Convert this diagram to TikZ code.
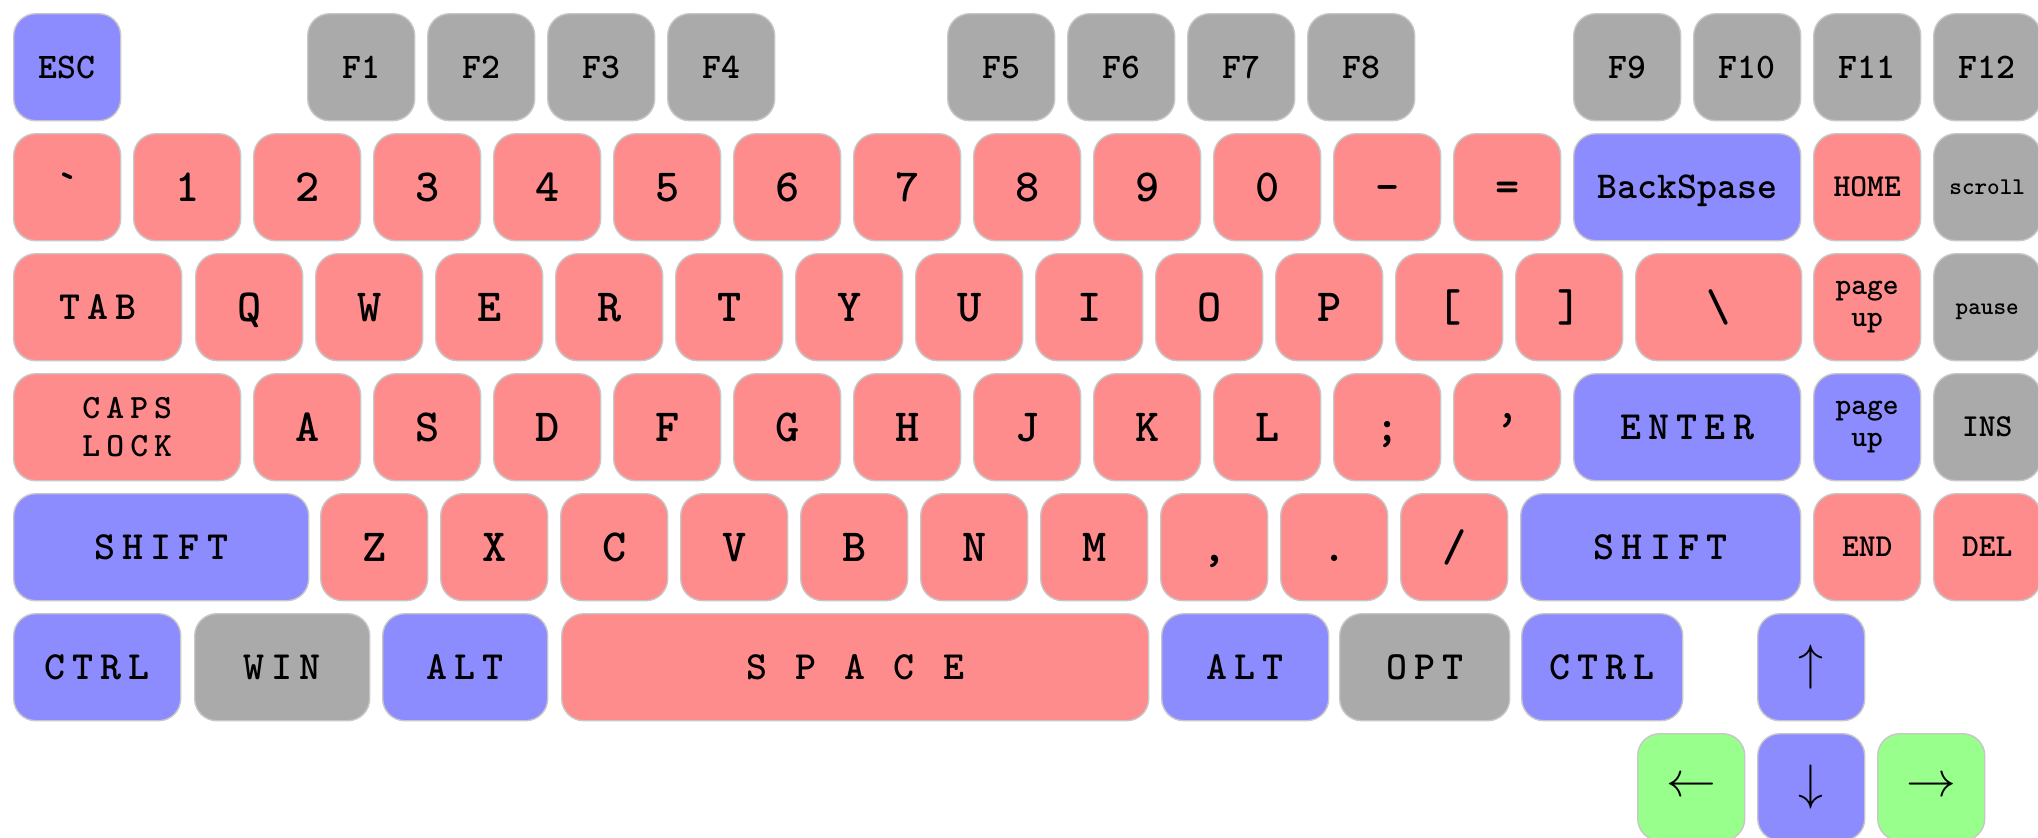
\documentclass[tikz,border=0pt]{standalone}
\usepackage{xcolor}
\usepackage{fontspec}
\usepackage{tikz}
\usetikzlibrary{positioning}

\newfontfamily\keyfont{lmmonolt10-bold.otf}
\newfontfamily\widekeyfont{lmmonolt10-bold.otf}[LetterSpace=18]
\definecolor{keyred}{RGB}{255,140,140}
\definecolor{keyblue}{RGB}{140,140,255}
\definecolor{keygray}{RGB}{170,170,170}
\definecolor{keygreen}{RGB}{152,255,140}

\begin{document}
\begin{tikzpicture}[x=0.5pt,y=-0.5pt,
  key/.style={draw=black!22, line width=0.7pt, rounded corners=11pt, anchor=north west,
    minimum width=53.5pt, minimum height=53.5pt, inner sep=0pt, align=center,
    font=\keyfont\fontsize{23}{23}\selectfont, text height=14pt, text depth=0pt},
  kw/.style={minimum width={#1*0.5pt}},
  rkey/.style={key, fill=keyred},
  bkey/.style={key, fill=keyblue},
  grkey/.style={key, fill=keygray},
  gkey/.style={key, fill=keygreen},
  fname/.style={font=\keyfont\fontsize{18}{18}\selectfont, text height=11pt},
  word/.style={font=\widekeyfont\fontsize{20}{20}\selectfont, text height=12pt},
  navname/.style={font=\keyfont\fontsize{16}{16}\selectfont, text height=9.5pt},
  twoline/.style={text height={}, text depth={}},
  tinyname/.style={font=\keyfont\fontsize{12}{12}\selectfont, text height=7pt},
  arrowname/.style={font=\fontsize{33}{33}\selectfont, text height={}, text depth={}}
]
  \useasboundingbox (0,0) rectangle (2038,837);

  % function row
  \node[bkey, fname] (esc) at (13,13) {ESC};
  \foreach \f [count=\i from 0] in {1,2,3,4}
    \node[grkey, fname] (f\f) at (307+120*\i,13) {F\f};
  \foreach \f [count=\i from 0] in {5,6,7,8}
    \node[grkey, fname] (f\f) at (947+120*\i,13) {F\f};
  \foreach \f [count=\i from 0] in {9,10,11,12}
    \node[grkey, fname] (f\f) at (1573+120*\i,13) {F\f};

  % number row
  \foreach \c [count=\i from 0] in {\symbol{"60},1,2,3,4,5,6,7,8,9,0,-,=}
    \node[rkey] (num\i) at (13+120*\i,133) {\c};
  \node[bkey, kw=227, font=\keyfont\fontsize{19}{19}\selectfont, text height=11.5pt] (backspace) at (1573,133) {BackSpase};
  \node[rkey, navname] (home) at (1813,133) {HOME};
  \node[grkey, tinyname] (scroll) at (1933,133) {scroll};

  % top letter row
  \node[rkey, kw=168, word] (tab) at (13,253) {TAB};
  \foreach \c [count=\i from 0] in {Q,W,E,R,T,Y,U,I,O,P,{[},{]}}
    \node[rkey] (top\i) at (195+120*\i,253) {\c};
  \node[rkey, kw=166] (bslash) at (1635,253) {\textbackslash};
  \node[rkey, twoline, font=\keyfont\fontsize{15}{16}\selectfont] (pgup) at (1813,253) {page\\up};
  \node[grkey, tinyname] (pause) at (1933,253) {pause};

  % home row
  \node[rkey, kw=227, twoline, font=\widekeyfont\fontsize{17}{19}\selectfont] (caps) at (13,373) {CAPS\\LOCK};
  \foreach \c [count=\i from 0] in {A,S,D,F,G,H,J,K,L,;,’}
    \node[rkey] (mid\i) at (253+120*\i,373) {\c};
  \node[bkey, kw=227, word] (enter) at (1573,373) {ENTER};
  \node[bkey, twoline, font=\keyfont\fontsize{15}{16}\selectfont] (pgup2) at (1813,373) {page\\up};
  \node[grkey, navname] (ins) at (1933,373) {INS};

  % bottom letter row
  \node[bkey, kw=295, word] (lshift) at (13,493) {SHIFT};
  \foreach \c [count=\i from 0] in {Z,X,C,V,B,N,M,{,},.,/}
    \node[rkey] (bot\i) at (320+120*\i,493) {\c};
  \node[bkey, kw=280, word] (rshift) at (1520,493) {SHIFT};
  \node[rkey, navname] (end) at (1813,493) {END};
  \node[rkey, navname] (del) at (1933,493) {DEL};

  % space row
  \node[bkey, kw=167, word] (lctrl) at (13,613) {CTRL};
  \node[grkey, kw=175, word] (win) at (194,613) {WIN};
  \node[bkey, kw=165, word] (lalt) at (382,613) {ALT};
  \node[rkey, kw=587, word] (space) at (561,613) {S P A C E};
  \node[bkey, kw=167, word] (ralt) at (1161,613) {ALT};
  \node[grkey, kw=170, word] (opt) at (1339,613) {OPT};
  \node[bkey, kw=161, word] (rctrl) at (1521,613) {CTRL};
  \node[bkey, arrowname] (up) at (1757,613) {$\uparrow$};

  % arrows
  \node[gkey, arrowname] (left) at (1637,733) {$\leftarrow$};
  \node[bkey, arrowname] (down) at (1757,733) {$\downarrow$};
  \node[gkey, arrowname] (right) at (1877,733) {$\rightarrow$};
\end{tikzpicture}
\end{document}
